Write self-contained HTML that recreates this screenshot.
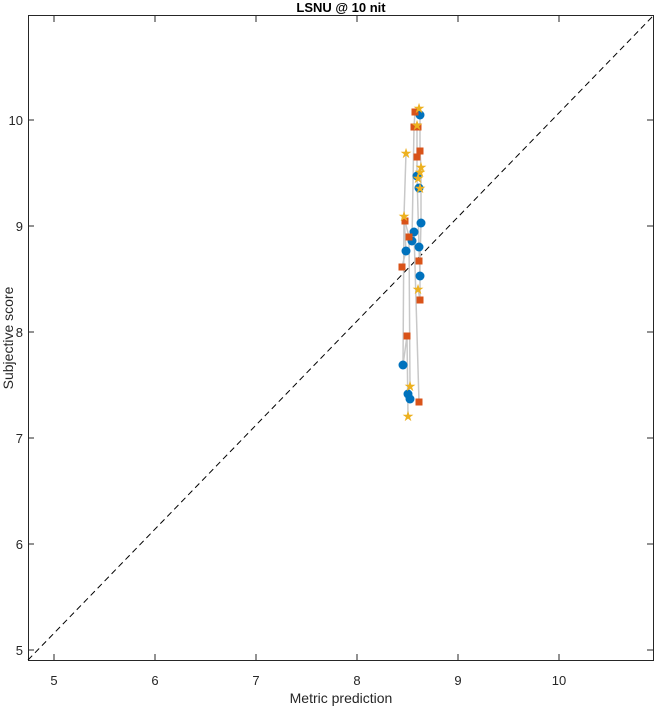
<!DOCTYPE html>
<html><head><style>body{margin:0;background:#fff}svg{display:block;font-family:"Liberation Sans",sans-serif}</style></head><body>
<svg width="656" height="708" viewBox="0 0 656 708">
<rect x="0" y="0" width="656" height="708" fill="#fff"/>
<rect x="28.5" y="15.5" width="625" height="645" fill="#fff" stroke="#262626" stroke-width="1"/>
<line x1="28" y1="660" x2="654" y2="15" stroke="#000" stroke-dasharray="6,4" stroke-width="1"/>
<g stroke="#262626">
<line x1="54" y1="660" x2="54" y2="654"/><line x1="155" y1="660" x2="155" y2="654"/><line x1="256" y1="660" x2="256" y2="654"/><line x1="357" y1="660" x2="357" y2="654"/><line x1="458" y1="660" x2="458" y2="654"/><line x1="559" y1="660" x2="559" y2="654"/>
<line x1="54" y1="16" x2="54" y2="22"/><line x1="155" y1="16" x2="155" y2="22"/><line x1="256" y1="16" x2="256" y2="22"/><line x1="357" y1="16" x2="357" y2="22"/><line x1="458" y1="16" x2="458" y2="22"/><line x1="559" y1="16" x2="559" y2="22"/>
<line x1="28" y1="650" x2="34" y2="650"/><line x1="28" y1="544" x2="34" y2="544"/><line x1="28" y1="438" x2="34" y2="438"/><line x1="28" y1="332" x2="34" y2="332"/><line x1="28" y1="226" x2="34" y2="226"/><line x1="28" y1="120" x2="34" y2="120"/>
<line x1="653" y1="650" x2="647" y2="650"/><line x1="653" y1="544" x2="647" y2="544"/><line x1="653" y1="438" x2="647" y2="438"/><line x1="653" y1="332" x2="647" y2="332"/><line x1="653" y1="226" x2="647" y2="226"/><line x1="653" y1="120" x2="647" y2="120"/>
</g>
<g font-size="13" fill="#262626" text-anchor="middle">
<text x="54" y="685">5</text><text x="155" y="685">6</text><text x="256" y="685">7</text><text x="357" y="685">8</text><text x="458" y="685">9</text><text x="559" y="685">10</text>
</g>
<g font-size="13" fill="#262626" text-anchor="end">
<text x="23" y="655">5</text><text x="23" y="549">6</text><text x="23" y="443">7</text><text x="23" y="337">8</text><text x="23" y="231">9</text><text x="23" y="125">10</text>
</g>
<text x="341" y="703" font-size="14" fill="#262626" text-anchor="middle">Metric prediction</text>
<text transform="translate(13,338) rotate(-90)" font-size="14" fill="#262626" text-anchor="middle">Subjective score</text>
<text x="341" y="12" font-size="13" font-weight="bold" fill="#000" text-anchor="middle">LSNU @ 10 nit</text>
<g stroke="#c8c8c8" stroke-width="1.5" fill="none">
<polyline points="406,153 404,216 403,365 407,336 408,416"/>
<polyline points="405,221 409,237 410,386 408,394 410,399"/>
<polyline points="415,112 414,127 412,241 414,232 419,402"/>
<polyline points="417,125 417,157 417,176 419,247 420,276"/>
<polyline points="419,108 420,115 420,151 421,167 421,223 420,261 420,300 418,289"/>
<polyline points="402,267 406,251 404,216"/>
</g>
<g fill="#0072bd">
<circle cx="420" cy="115" r="4.5"/><circle cx="417" cy="176" r="4.5"/><circle cx="419" cy="188" r="4.5"/><circle cx="421" cy="223" r="4.5"/><circle cx="414" cy="232" r="4.5"/><circle cx="412" cy="241" r="4.5"/><circle cx="406" cy="251" r="4.5"/><circle cx="419" cy="247" r="4.5"/><circle cx="420" cy="276" r="4.5"/><circle cx="403" cy="365" r="4.5"/><circle cx="408" cy="394" r="4.5"/><circle cx="410" cy="399" r="4.5"/>
</g>
<g fill="#d95319">
<rect x="411.5" y="108.5" width="7" height="7"/><rect x="410.5" y="123.5" width="7" height="7"/><rect x="414.5" y="123.5" width="7" height="7"/><rect x="416.5" y="147.5" width="7" height="7"/><rect x="413.5" y="153.5" width="7" height="7"/><rect x="401.5" y="217.5" width="7" height="7"/><rect x="405.5" y="233.5" width="7" height="7"/><rect x="415.5" y="257.5" width="7" height="7"/><rect x="398.5" y="263.5" width="7" height="7"/><rect x="416.5" y="296.5" width="7" height="7"/><rect x="403.5" y="332.5" width="7" height="7"/><rect x="415.5" y="398.5" width="7" height="7"/>
</g>
<g fill="#edb120" font-size="14" text-anchor="middle">
<text x="419" y="113">★</text><text x="417" y="130">★</text><text x="406" y="158">★</text><text x="421" y="172">★</text><text x="420" y="177">★</text><text x="418" y="183">★</text><text x="420" y="193">★</text><text x="404" y="221">★</text><text x="418" y="294">★</text><text x="410" y="391">★</text><text x="408" y="421">★</text>
</g>
</svg>
</body></html>
